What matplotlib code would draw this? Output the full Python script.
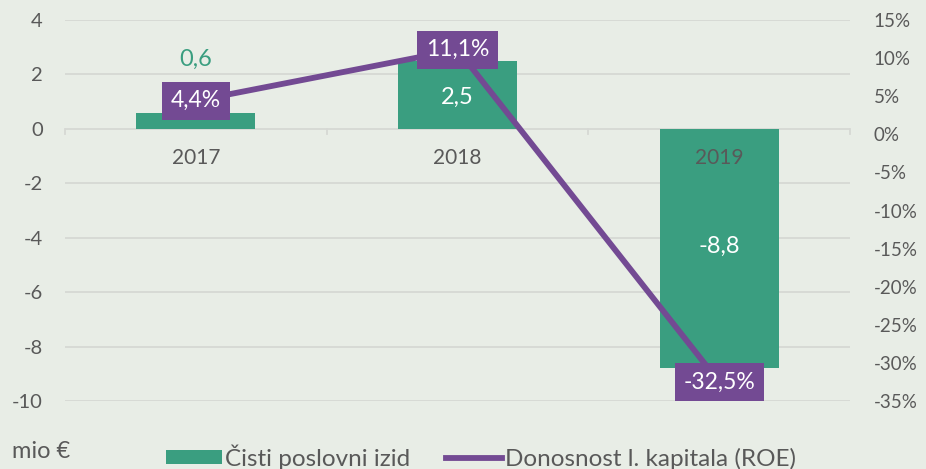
import matplotlib
matplotlib.use("Agg")
import matplotlib.pyplot as plt
from matplotlib.patches import Patch
from matplotlib.lines import Line2D

# Data
years = ["2017", "2018", "2019"]
net_result = [0.6, 2.5, -8.8]          # mio €
roe = [4.4, 11.1, -32.5]               # %
net_labels = ["0,6", "2,5", "-8,8"]
roe_labels = ["4,4%", "11,1%", "-32,5%"]
left_ticks = [4, 2, 0, -2, -4, -6, -8, -10]
right_ticks = [15, 10, 5, 0, -5, -10, -15, -20, -25, -30, -35]

BG = "#E8EDE6"
GREEN = "#3A9E80"
PURPLE = "#734A93"
TXT = "#595959"
GRID = "#D6D8D4"

plt.rcParams["font.family"] = ["Lato", "DejaVu Sans"]

fig = plt.figure(figsize=(9.26, 4.69), dpi=100, facecolor=BG)
ax = fig.add_axes([65 / 926, 1 - 401 / 469, 785 / 926, 381 / 469])
ax.set_facecolor(BG)
ax2 = ax.twinx()

x = list(range(len(years)))

# Horizontal gridlines from the left axis
for t in left_ticks:
    ax.axhline(t, color=GRID, lw=1.3, zorder=0)

ax.bar(x, net_result, width=0.455, color=GREEN, zorder=2)
ax.set_xlim(-0.5, 2.5)
ax.set_ylim(-10, 4)
ax.set_yticks(left_ticks)
ax.set_yticklabels([str(t) for t in left_ticks])

for s in ["top", "right", "left", "bottom"]:
    ax.spines[s].set_visible(False)
    ax2.spines[s].set_visible(False)

ax.tick_params(axis="y", length=0, labelsize=14.5, labelcolor=TXT, pad=16)
ax.set_xticks([])

# Category boundary ticks on the zero line
for b in [-0.5, 0.5, 1.5, 2.5]:
    ax.plot([b, b], [0, -0.2], color=GRID, lw=1.3, zorder=1, clip_on=False)

for xi, yr in zip(x, years):
    ax.text(xi, -1.08, yr, ha="center", va="center", fontsize=15, color=TXT, zorder=5)

# Bar value labels
ax.text(0, 2.55, net_labels[0], ha="center", va="center", fontsize=17, color=GREEN, zorder=5)
ax.text(1, net_result[1] / 2 - 0.1, net_labels[1], ha="center", va="center", fontsize=17,
        color="white", zorder=5)
ax.text(2, net_result[2] / 2 + 0.1, net_labels[2], ha="center", va="center", fontsize=17,
        color="white", zorder=5)

# ROE line on secondary axis
ax2.set_ylim(-35, 15)
ax2.set_yticks(right_ticks)
ax2.set_yticklabels([f"{t}%" for t in right_ticks])
ax2.tick_params(axis="y", length=0, labelsize=13.5, labelcolor=TXT, pad=17)
ax2.plot(x, roe, color=PURPLE, lw=4.2, solid_capstyle="butt", zorder=3)

for xi, v, lab in zip(x, roe, roe_labels):
    ax2.text(xi, v, lab, ha="center", va="center", fontsize=16.5, color="white",
             zorder=6,
             bbox=dict(boxstyle="square,pad=0.38", fc=PURPLE, ec="none"))

# Unit label and legend
fig.text(12 / 926, 1 - 451 / 469, "mio €", ha="left", va="center", fontsize=17, color=TXT)
handles = [Patch(facecolor=GREEN, edgecolor="none"),
           Line2D([0], [0], color=PURPLE, lw=4.2)]
leg = fig.legend(handles, ["Čisti poslovni izid", "Donosnost l. kapitala (ROE)"],
                 loc="center", bbox_to_anchor=(481 / 926, 1 - 457 / 469), ncol=2,
                 frameon=False, fontsize=17.5, labelcolor=TXT, handlelength=2.3,
                 handletextpad=0.1, columnspacing=1.5, handleheight=0.55)

fig.savefig("out.png", dpi=100, facecolor=BG)
